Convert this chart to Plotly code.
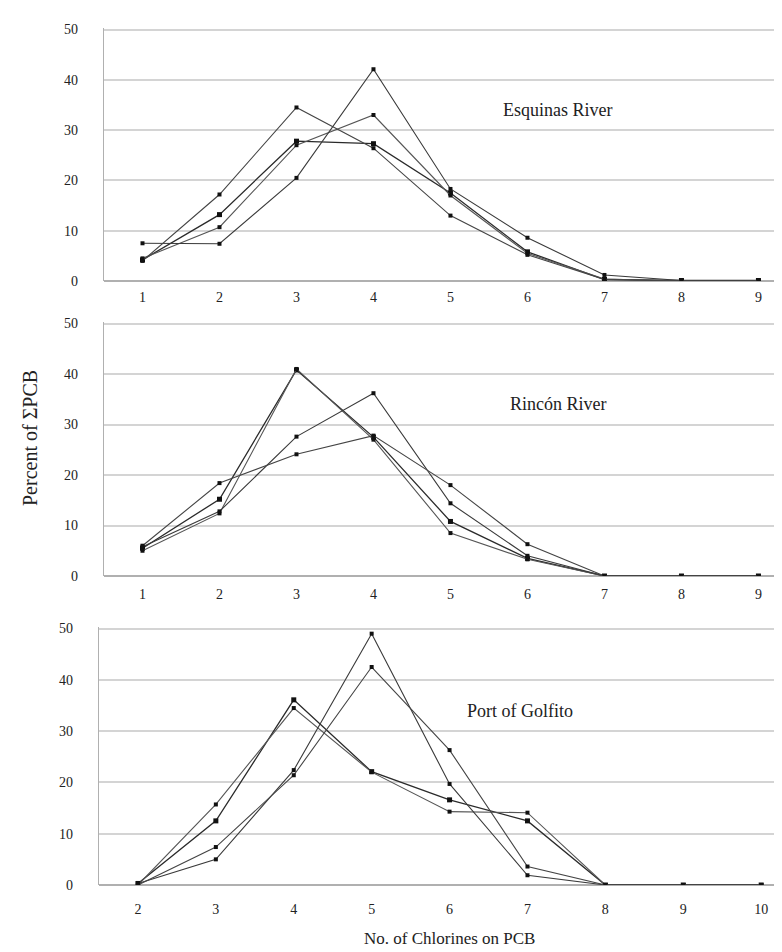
import plotly.graph_objects as go

# ---- data ----
x_esq = [1, 2, 3, 4, 5, 6, 7, 8, 9]
esq_a = [4.2, 13.2, 27.8, 27.3, 17.5, 5.8, 0.3, 0.1, 0.1]
esq_b = [4.5, 10.7, 27.0, 33.0, 17.0, 5.5, 0.4, 0.0, 0.0]
esq_c = [7.5, 7.4, 20.5, 42.1, 18.3, 8.6, 1.2, 0.1, 0.1]
esq_d = [4.0, 17.2, 34.5, 26.4, 13.0, 5.2, 0.3, 0.0, 0.0]

x_rin = [1, 2, 3, 4, 5, 6, 7, 8, 9]
rin_a = [5.5, 15.2, 40.8, 27.5, 10.8, 3.5, 0.0, 0.0, 0.0]
rin_b = [5.0, 12.4, 41.0, 27.0, 8.5, 3.3, 0.0, 0.0, 0.0]
rin_c = [5.8, 12.8, 27.6, 36.2, 14.4, 4.0, 0.0, 0.0, 0.0]
rin_d = [6.0, 18.4, 24.1, 27.8, 18.0, 6.3, 0.0, 0.0, 0.0]

x_gol = [2, 3, 4, 5, 6, 7, 8, 9, 10]
gol_a = [0.3, 12.5, 36.1, 22.1, 16.6, 12.5, 0.0, 0.0, 0.0]
gol_b = [0.0, 15.7, 34.5, 22.0, 14.3, 14.1, 0.0, 0.0, 0.0]
gol_c = [0.3, 5.0, 22.4, 49.0, 19.7, 1.9, 0.0, 0.0, 0.0]
gol_d = [0.0, 7.4, 21.4, 42.5, 26.3, 3.6, 0.0, 0.0, 0.0]

y_ticks = [0, 10, 20, 30, 40, 50]

W, H = 782, 952
FONT = "Times New Roman, Liberation Serif, Tinos, DejaVu Serif, serif"

panels = [
    dict(name="Esquinas River", x=x_esq, series=[esq_a, esq_b, esq_c, esq_d],
         px_left=96, px_top=20, px_bottom=273, xr=[0.5, 9.41], ticks=x_esq, standoff=6),
    dict(name="Rincón River", x=x_rin, series=[rin_a, rin_b, rin_c, rin_d],
         px_left=96, px_top=314, px_bottom=568, xr=[0.5, 9.41], ticks=x_rin, standoff=8),
    dict(name="Port of Golfito", x=x_gol, series=[gol_a, gol_b, gol_c, gol_d],
         px_left=91, px_top=619, px_bottom=877, xr=[1.5, 10.37], ticks=x_gol, standoff=14),
]

styles = [
    dict(color="#2a2a2a", width=1.3, msize=5),
    dict(color="#555555", width=1.1, msize=4),
    dict(color="#3a3a3a", width=1.1, msize=4),
    dict(color="#444444", width=1.1, msize=4),
]

fig = go.Figure()
layout = dict(
    width=W, height=H,
    margin=dict(l=0, r=0, t=0, b=0),
    paper_bgcolor="white", plot_bgcolor="white",
    showlegend=False,
    font=dict(family=FONT, color="#222", size=14),
)
annotations = []

for i, p in enumerate(panels, start=1):
    xa = "x" if i == 1 else f"x{i}"
    ya = "y" if i == 1 else f"y{i}"
    for s, st in zip(p["series"], styles):
        fig.add_trace(go.Scatter(
            x=p["x"], y=s, xaxis=xa, yaxis=ya, mode="lines+markers",
            line=dict(color=st["color"], width=st["width"]),
            marker=dict(symbol="square", size=st["msize"], color="#111"),
            hoverinfo="skip",
        ))
    xkey = "xaxis" if i == 1 else f"xaxis{i}"
    ykey = "yaxis" if i == 1 else f"yaxis{i}"
    layout[xkey] = dict(
        domain=[p["px_left"] / W, 1.0], range=p["xr"], anchor=ya,
        tickmode="array", tickvals=p["ticks"], ticktext=[str(t) for t in p["ticks"]],
        showgrid=False, zeroline=False, showline=False,
        ticks="", ticklabelstandoff=p["standoff"],
        tickfont=dict(family=FONT, size=14, color="#222"),
        automargin=False,
    )
    layout[ykey] = dict(
        domain=[1 - p["px_bottom"] / H, 1 - p["px_top"] / H], range=[0, 50.3], anchor=xa,
        tickmode="array", tickvals=y_ticks, ticktext=[str(t) for t in y_ticks],
        showgrid=True, gridcolor="#d4d4d4", gridwidth=1.5,
        zeroline=True, zerolinecolor="#b0b0b0", zerolinewidth=1.5,
        showline=True, linecolor="#b0b0b0", linewidth=1.2,
        ticks="", ticklabelstandoff=22,
        tickfont=dict(family=FONT, size=14, color="#222"),
        automargin=False,
    )
    annotations.append(dict(
        text=p["name"], xref=xa, yref=ya, x=(p["xr"][0] + 5.9) if i < 3 else 6.9,
        y=34, showarrow=False, xanchor="center", yanchor="middle",
        font=dict(family=FONT, size=18, color="#222"),
    ))

annotations.append(dict(
    text="Percent of ΣPCB", xref="paper", yref="paper", x=22 / W, y=1 - 430 / H,
    textangle=-90, showarrow=False, xanchor="center", yanchor="middle",
    font=dict(family=FONT, size=20, color="#222"),
))
annotations.append(dict(
    text="No. of Chlorines on PCB", xref="paper", yref="paper", x=441 / W, y=1 - 930 / H,
    showarrow=False, xanchor="center", yanchor="middle",
    font=dict(family=FONT, size=17, color="#222"),
))
layout["annotations"] = annotations
fig.update_layout(**layout)
fig.write_html("out.html")
